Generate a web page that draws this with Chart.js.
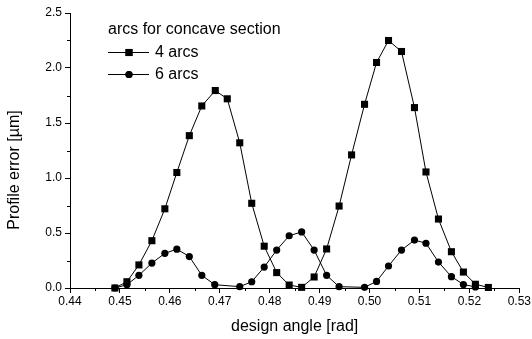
<!DOCTYPE html>
<html>
<head>
<meta charset="utf-8">
<script src="https://cdn.jsdelivr.net/npm/chart.js@4/dist/chart.umd.min.js"></script>
<style>
html,body{margin:0;padding:0;background:#fff;}
#wrap{width:532px;height:339px;position:relative;}
</style>
</head>
<body>
<div id="wrap"><canvas id="c" width="532" height="339"></canvas></div>
<script>
const xs4 = [0.449,0.4514,0.4538,0.4564,0.4590,0.4614,0.4639,0.4664,0.4691,0.4715,0.4740,0.4764,0.4789,0.4814,0.4839,0.4864,0.4889,0.4914,0.4939,0.4964,0.4990,0.5014,0.5038,0.5064,0.5090,0.5113,0.5138,0.5164,0.5188,0.5212,0.5238];
const ys4 = [0.0,0.057,0.21,0.43,0.72,1.05,1.385,1.655,1.795,1.72,1.32,0.77,0.38,0.14,0.027,0.006,0.10,0.355,0.745,1.21,1.67,2.05,2.25,2.15,1.64,1.055,0.627,0.33,0.145,0.034,0.005];
const xs6 = [0.449,0.4514,0.4538,0.4564,0.4590,0.4614,0.4639,0.4664,0.4690,0.4740,0.4764,0.4789,0.4814,0.4839,0.4864,0.4889,0.4914,0.4939,0.4990,0.5014,0.5038,0.5064,0.5090,0.5113,0.5138,0.5164,0.5188,0.5212];
const ys6 = [0.0,0.03,0.115,0.227,0.315,0.353,0.286,0.115,0.03,0.012,0.057,0.19,0.345,0.475,0.51,0.345,0.115,0.012,0.006,0.06,0.2,0.345,0.436,0.407,0.236,0.103,0.032,0.01];
const seriesNames = ['4 arcs','6 arcs'];
const legendTitle = 'arcs for concave section';
const xTitle = 'design angle [rad]';
const yTitle = 'Profile error [\u00b5m]';
const xMin = 0.44, xMax = 0.53, xStep = 0.01;
const yMin = 0, yMax = 2.5, yStep = 0.5;

const FONT = 'Arial, "Liberation Sans", sans-serif';

const toPts = (xs, ys) => xs.map((x, i) => ({x: x, y: ys[i]}));

const extras = {
  id: 'extras',
  afterDraw(chart) {
    const ctx = chart.ctx;
    const xs = chart.scales.x, ys = chart.scales.y;
    const area = chart.chartArea;
    ctx.save();
    ctx.strokeStyle = '#000';
    ctx.lineWidth = 1;
    // minor ticks
    ctx.beginPath();
    for (let v = xMin + xStep / 2; v < xMax; v += xStep) {
      const px = Math.round(xs.getPixelForValue(v)) + 0.5;
      ctx.moveTo(px, area.bottom);
      ctx.lineTo(px, area.bottom + 3);
    }
    for (let v = yMin + yStep / 2; v < yMax; v += yStep) {
      const py = Math.round(ys.getPixelForValue(v)) + 0.5;
      ctx.moveTo(area.left, py);
      ctx.lineTo(area.left - 3, py);
    }
    ctx.stroke();
    // y title
    ctx.fillStyle = '#000';
    ctx.font = '16px ' + FONT;
    ctx.textAlign = 'center';
    ctx.textBaseline = 'middle';
    ctx.translate(15, 170);
    ctx.rotate(-Math.PI / 2);
    ctx.fillText(yTitle, 0, 0);
    ctx.restore();

    // legend
    ctx.save();
    ctx.fillStyle = '#000';
    ctx.strokeStyle = '#000';
    ctx.font = '16px ' + FONT;
    ctx.textAlign = 'left';
    ctx.textBaseline = 'middle';
    ctx.fillText(legendTitle, 108, 30);
    const rows = [52, 74];
    chart.data.datasets.forEach((ds, i) => {
      const y = rows[i];
      ctx.beginPath();
      ctx.lineWidth = 1;
      ctx.moveTo(108, y + 0.5);
      ctx.lineTo(149, y + 0.5);
      ctx.stroke();
      Chart.helpers.drawPoint(ctx, {pointStyle: ds.pointStyle, radius: ds.pointRadius, borderWidth: 0, rotation: 0}, 129, y + 0.5);
      ctx.fill();
      ctx.fillText(ds.label, 155, y + 1);
    });
    ctx.restore();
  }
};

new Chart(document.getElementById('c'), {
  type: 'line',
  data: {
    datasets: [
      {label: seriesNames[0], data: toPts(xs4, ys4), borderColor: '#000', backgroundColor: '#000', borderWidth: 1, pointStyle: 'rect', pointRadius: 5, pointBackgroundColor: '#000', pointBorderColor: '#000', pointBorderWidth: 0, tension: 0, clip: false},
      {label: seriesNames[1], data: toPts(xs6, ys6), borderColor: '#000', backgroundColor: '#000', borderWidth: 1, pointStyle: 'circle', pointRadius: 3.6, pointBackgroundColor: '#000', pointBorderColor: '#000', pointBorderWidth: 0, tension: 0, clip: false}
    ]
  },
  options: {
    responsive: false,
    animation: false,
    events: [],
    layout: {padding: {top: 13, right: 12, bottom: 0, left: 0}},
    plugins: {legend: {display: false}, tooltip: {enabled: false}},
    scales: {
      x: {
        type: 'linear', min: xMin, max: xMax,
        afterFit(s) { s.height = 51; },
        ticks: {stepSize: xStep, color: '#000', font: {family: FONT, size: 12}, padding: 1, maxRotation: 0,
          callback: v => v.toFixed(2)},
        grid: {drawOnChartArea: false, tickLength: 5, tickColor: '#000', tickWidth: 1},
        border: {display: true, color: '#000', width: 1},
        title: {display: true, text: xTitle, color: '#000', font: {family: FONT, size: 16}, padding: {top: 0, bottom: 3}}
      },
      y: {
        type: 'linear', min: yMin, max: yMax,
        afterFit(s) { s.width = 70; },
        ticks: {stepSize: yStep, color: '#000', font: {family: FONT, size: 12}, padding: 3,
          callback: v => v.toFixed(1)},
        grid: {drawOnChartArea: false, tickLength: 5, tickColor: '#000', tickWidth: 1},
        border: {display: true, color: '#000', width: 1}
      }
    }
  },
  plugins: [extras]
});
</script>
</body>
</html>
